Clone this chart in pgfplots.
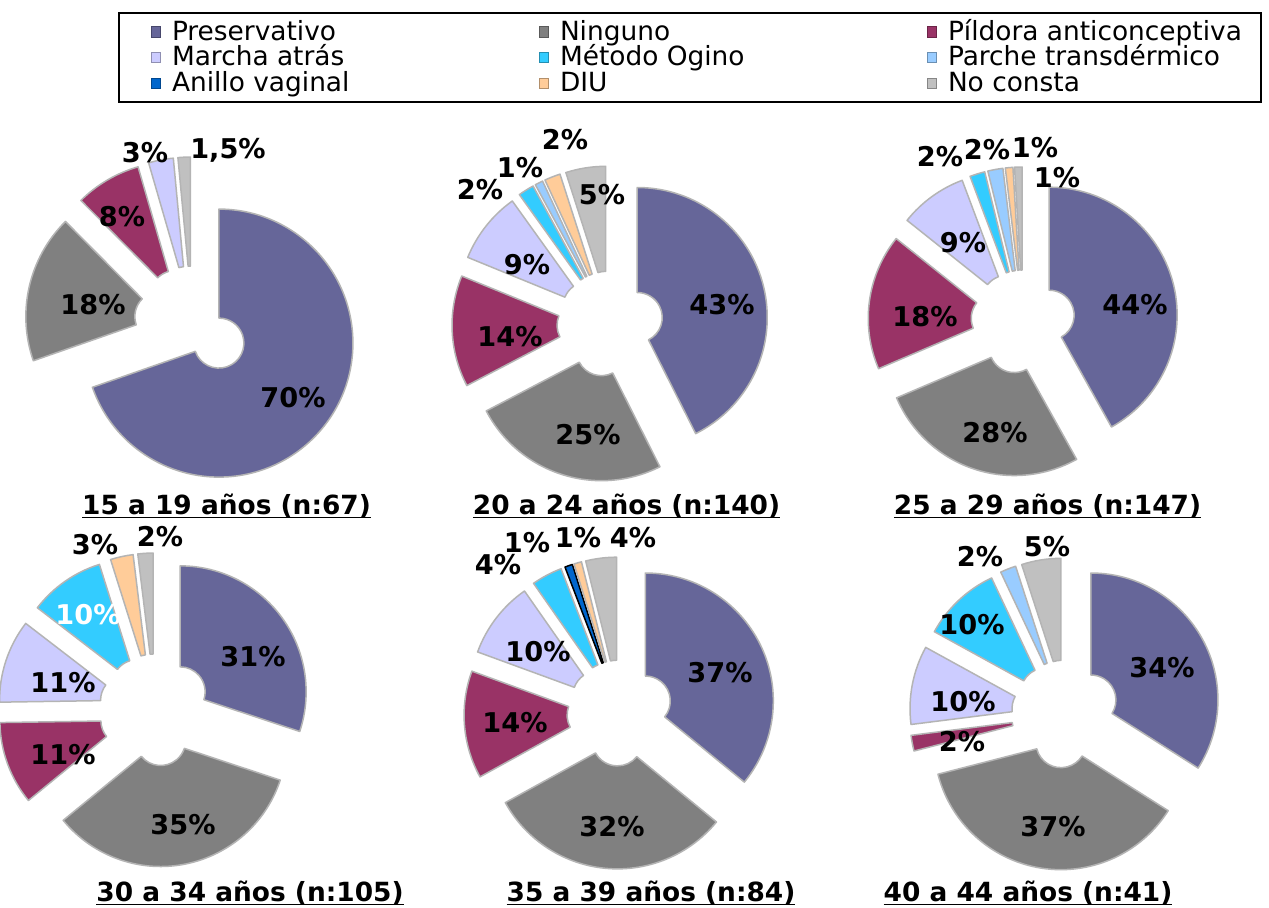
\documentclass[border=0pt]{standalone}
\usepackage{fontspec}
\setmainfont{DejaVu Sans}
\usepackage{pgfplots}
\usepackage{pgfplotstable}
\pgfplotsset{compat=1.18}
\pgfkeys{/pgf/number format/assume math mode=true}
\tikzset{ttl/.style={font=\bfseries\fontsize{13.2}{15}\selectfont, anchor=base, inner sep=0pt}}

\definecolor{cPres}{HTML}{666699}
\definecolor{cNing}{HTML}{808080}
\definecolor{cPild}{HTML}{993366}
\definecolor{cMarch}{HTML}{CCCCFF}
\definecolor{cOgino}{HTML}{33CCFF}
\definecolor{cParche}{HTML}{99CCFF}
\definecolor{cAnillo}{HTML}{0066CC}
\definecolor{cDIU}{HTML}{FFCC99}
\definecolor{cNoC}{HTML}{C0C0C0}
\definecolor{cEdge}{HTML}{B4B4B4}

% 15 a 19
\pgfplotstableread{
val col edge lx ly lc
70 cPres cEdge 293 398 black
18 cNing cEdge 93 305 black
8 cPild cEdge 122 217 black
3 cMarch cEdge 145 153 black
1.5 cNoC cEdge 228 150 black
}\pieA
% 20 a 24
\pgfplotstableread{
val col edge lx ly lc
43 cPres cEdge 722 305 black
25 cNing cEdge 588 435 black
14 cPild cEdge 510 337 black
9 cMarch cEdge 527 265 black
2 cOgino cEdge 480 190 black
1 cParche cEdge 520 168 black
2 cDIU cEdge 565 140 black
5 cNoC cEdge 602 195 black
}\pieB
% 25 a 29
\pgfplotstableread{
val col edge lx ly lc
44 cPres cEdge 1135 305 black
28 cNing cEdge 995 433 black
18 cPild cEdge 925 317 black
9 cMarch cEdge 963 243 black
2 cOgino cEdge 940 157 black
2 cParche cEdge 987 150 black
1 cDIU cEdge 1035 148 black
1 cNoC cEdge 1057 178 black
}\pieC
% 30 a 34
\pgfplotstableread{
val col edge lx ly lc
31 cPres cEdge 253 657 black
35 cNing cEdge 183 825 black
11 cPild cEdge 63 755 black
11 cMarch cEdge 63 683 black
10 cOgino cEdge 88 615 white
3 cDIU cEdge 95 545 black
2 cNoC cEdge 160 537 black
}\pieD
% 35 a 39
\pgfplotstableread{
val col edge lx ly lc
37 cPres cEdge 720 673 black
32 cNing cEdge 612 827 black
14 cPild cEdge 515 723 black
10 cMarch cEdge 538 652 black
4 cOgino cEdge 498 565 black
1 cAnillo black 527 543 black
1 cDIU cEdge 578 538 black
4 cNoC cEdge 633 538 black
}\pieE
% 40 a 44
\pgfplotstableread{
val col edge lx ly lc
34 cPres cEdge 1162 668 black
37 cNing cEdge 1053 827 black
2 cPild cEdge 962 742 black
10 cMarch cEdge 963 702 black
10 cOgino cEdge 972 625 black
2 cParche cEdge 980 557 black
5 cNoC cEdge 1047 547 black
}\pieF

% #1 table, #2 #3 centre (px), #4 outer radius (px), #5 explosion (px)
\newcommand\drawpie[5]{%
 \pgfplotsextra{%
  \pgfplotstablegetrowsof{#1}%
  \pgfmathtruncatemacro\lastrow{\pgfplotsretval-1}%
  \gdef\tot{0}%
  \foreach \i in {0,...,\lastrow}{%
    \pgfplotstablegetelem{\i}{val}\of{#1}%
    \pgfmathparse{\tot+\pgfplotsretval}\xdef\tot{\pgfmathresult}%
  }%
  \gdef\cum{0}%
  \foreach \i in {0,...,\lastrow}{%
    \pgfplotstablegetelem{\i}{val}\of{#1}\let\v\pgfplotsretval
    \pgfplotstablegetelem{\i}{col}\of{#1}\let\c\pgfplotsretval
    \pgfplotstablegetelem{\i}{edge}\of{#1}\let\e\pgfplotsretval
    \pgfmathsetmacro\aone{90-(\cum/\tot)*360}%
    \pgfmathparse{\cum+\v}\xdef\cum{\pgfmathresult}%
    \pgfmathsetmacro\atwo{90-(\cum/\tot)*360}%
    \pgfmathsetmacro\amid{(\aone+\atwo)/2}%
    \pgfmathsetmacro\dd{#5*0.5}%
    \pgfmathsetmacro\RR{#4*0.5}%
    \def\rr{12.5}%
    \filldraw[fill=\c, draw=\e, line width=0.75pt, line join=round,
      shift={(axis cs:#2,#3)}, shift={(\amid:\dd pt)}]
      (\aone:\rr pt) -- (\aone:\RR pt)
      arc[start angle=\aone, end angle=\atwo, radius=\RR pt]
      -- (\atwo:\rr pt)
      arc[start angle=\atwo, end angle=\aone, radius=\rr pt] -- cycle;
  }%
  \foreach \i in {0,...,\lastrow}{%
    \pgfplotstablegetelem{\i}{val}\of{#1}\let\v\pgfplotsretval
    \pgfplotstablegetelem{\i}{lx}\of{#1}\let\lx\pgfplotsretval
    \pgfplotstablegetelem{\i}{ly}\of{#1}\let\ly\pgfplotsretval
    \pgfplotstablegetelem{\i}{lc}\of{#1}\let\lc\pgfplotsretval
    \node[text=\lc, font=\bfseries\fontsize{13.6}{15}\selectfont, inner sep=0pt]
      at (axis cs:\lx,\ly) {\pgfmathprintnumber[use comma]{\v}\%};
  }%
 }%
}
\newcommand\ptitle[1]{\underline{\smash{#1}}}

\begin{document}
\begin{tikzpicture}
\begin{axis}[
  width=634.5pt, height=454pt, scale only axis,
  xmin=0, xmax=1269, ymin=0, ymax=908, y dir=reverse,
  hide axis, clip=true,
  legend columns=3,
  legend cell align=left,
  legend image code/.code={\draw[#1, line width=0.5pt] (0pt,-2.6pt) rectangle (4.6pt,2.6pt);},
  legend style={at={(axis cs:118,12)}, anchor=north west, draw=black, line width=1pt,
    inner xsep=16pt, inner ysep=3pt, row sep=0pt, column sep=0pt,
    font=\fontsize{13.2}{14}\selectfont,
    nodes={inner sep=0pt, text height=10.6pt, text depth=2.25pt}},
]
\addlegendimage{fill=cPres, draw=cPres!70!black}
\addlegendentry{\makebox[188.9pt][l]{\hspace*{5.4pt}Preservativo}}
\addlegendimage{fill=cNing, draw=cNing!70!black}
\addlegendentry{\makebox[188.9pt][l]{\hspace*{5.4pt}Ninguno}}
\addlegendimage{fill=cPild, draw=cPild!70!black}
\addlegendentry{\makebox[146pt][l]{\hspace*{5.4pt}Píldora anticonceptiva}}
\addlegendimage{fill=cMarch, draw=cMarch!70!black}
\addlegendentry{\makebox[188.9pt][l]{\hspace*{5.4pt}Marcha atrás}}
\addlegendimage{fill=cOgino, draw=cOgino!70!black}
\addlegendentry{\makebox[188.9pt][l]{\hspace*{5.4pt}Método Ogino}}
\addlegendimage{fill=cParche, draw=cParche!70!black}
\addlegendentry{\makebox[146pt][l]{\hspace*{5.4pt}Parche transdérmico}}
\addlegendimage{fill=cAnillo, draw=cAnillo!70!black}
\addlegendentry{\makebox[188.9pt][l]{\hspace*{5.4pt}Anillo vaginal}}
\addlegendimage{fill=cDIU, draw=cDIU!70!black}
\addlegendentry{\makebox[188.9pt][l]{\hspace*{5.4pt}DIU}}
\addlegendimage{fill=cNoC, draw=cNoC!70!black}
\addlegendentry{\makebox[146pt][l]{\hspace*{5.4pt}No consta}}

\fill[white] (axis cs:0,0) rectangle (axis cs:1269,908);

\drawpie{\pieA}{192}{324}{134}{33}
\drawpie{\pieB}{610}{324}{130}{28}
\drawpie{\pieC}{1023}{322}{128}{27}
\drawpie{\pieD}{155}{710}{126}{31}
\drawpie{\pieE}{620}{713}{128}{28}
\drawpie{\pieF}{1065.5}{714}{127}{29}

\node[ttl] at (axis cs:226.5,515) {\ptitle{15 a 19 años (n:67)}};
\node[ttl] at (axis cs:626.5,515) {\ptitle{20 a 24 años (n:140)}};
\node[ttl] at (axis cs:1047.5,515) {\ptitle{25 a 29 años (n:147)}};
\node[ttl] at (axis cs:250,901.5) {\ptitle{30 a 34 años (n:105)}};
\node[ttl] at (axis cs:651,901.5) {\ptitle{35 a 39 años (n:84)}};
\node[ttl] at (axis cs:1028,901.5) {\ptitle{40 a 44 años (n:41)}};
\end{axis}
\end{tikzpicture}
\end{document}
